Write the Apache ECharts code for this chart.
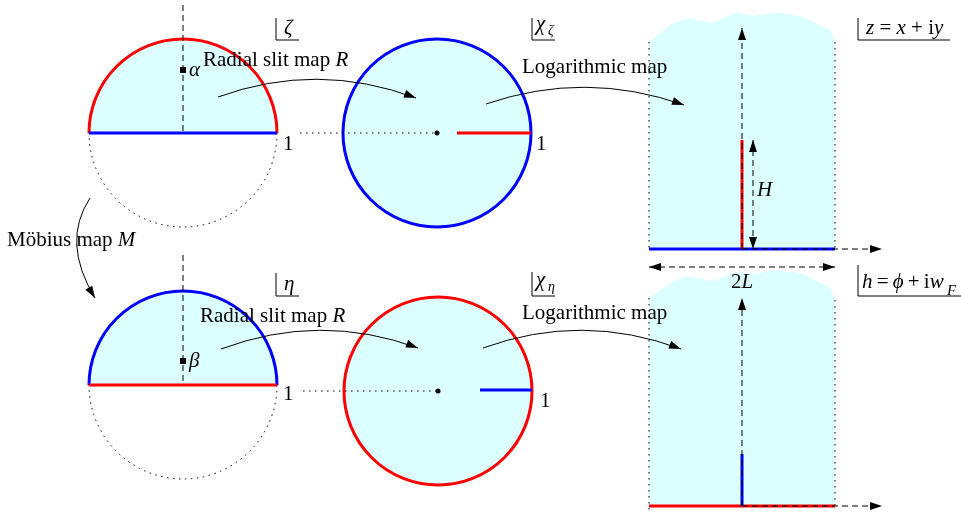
<!DOCTYPE html>
<html><head><meta charset="utf-8">
<script src="https://cdn.jsdelivr.net/npm/echarts@6/dist/echarts.min.js"></script>
<style>html,body{margin:0;padding:0;background:#fff}#c{width:961px;height:515px}</style>
</head><body><div id="c"></div>
<script>
// ---------------- diagram data (x to the right, y downward) ----------------
const halfDiskCenters = [[183,133],[183,385]];
const diskRadius = 94;
const fullCircleCenters = [[437,133],[438,391]];
const slitSegments = [[[457,133],[531,133]], [[480,390],[532,390]]];
const radialDashLines = [[[183,5],[183,133]], [[183,255],[183,385]]];
const connectorDotLines = [[[300,133],[437,133]], [[303,391],[438,391]]];
const markedPoints = [[183,70],[183,361]];          // alpha, beta
const centerDots = [[437,133],[438,391]];
const stripOutlines = [
  [[649,249],[649,42],[672,24],[688,18],[712,23],[737,12],[753,16],[777,12],[803,17],[830,30],[835,42],[835,249]],
  [[649,506],[649,298],[672,282],[688,276],[712,281],[737,272],[753,274],[777,270],[803,274],[830,288],[835,300],[835,506]]
];
const stripSideLines = [[[649,42],[649,249]], [[835,42],[835,249]], [[649,298],[649,514]], [[835,300],[835,506]]];
const stripBaseLines = [[[649,249],[835,249]], [[649,506],[835,506]]];
const stripCuts = [[[742,140],[742,249]], [[742,454],[742,506]]];
const axisArrows = [[[742,249],[742,28]], [[742,249],[882,249]], [[742,506],[742,298]], [[742,506],[882,506]]];
const doubleArrows = [[[753,140],[753,249]], [[649,267],[835,267]]];
const mapArrows = [   // start, control, end (tip)
  [[218,97],[317,61],[416,98]],
  [[486,104],[585,70],[684,105]],
  [[90,198],[61,242],[95,298]],
  [[221,349],[320,312],[418,348]],
  [[483,348],[582,312],[681,349]]
];
const planeBrackets = [
  [[276,18],[276,40],[299,40]], [[532,18],[532,40],[555,40]], [[858,18],[858,40],[950,40]],
  [[276,273],[276,296],[299,296]], [[532,272],[532,296],[555,296]], [[858,265],[858,296],[961,296]]
];
// [x, y, rich text, align, size]
const textLabels = [
  [203,60,'{r|Radial slit map }{i|R}','left',21],
  [522,67,'{r|Logarithmic map}','left',21],
  [200,316,'{r|Radial slit map }{i|R}','left',21],
  [522,313,'{r|Logarithmic map}','left',21],
  [7,240,'{r|Möbius map }{i|M}','left',21],
  [189,70,'{i|α}','left',21],
  [189,361,'{i|β}','left',21],
  [283,144,'{r|1}','left',21],
  [536,144,'{r|1}','left',21],
  [283,394,'{r|1}','left',21],
  [540,401,'{r|1}','left',21],
  [284,28,'{i|ζ}','left',21],
  [536,24,'{i|χ}','left',21],
  [548,31,'{i|ζ}','left',14],
  [866,28,'{i|z}{r| = }{i|x}{r| + i}{i|y}','left',21],
  [284,284,'{i|η}','left',21],
  [536,280,'{i|χ}','left',21],
  [548,287,'{i|η}','left',14],
  [862,282,'{i|h}{r|\u2009=\u2009}{i|ϕ}{r|\u2009+\u2009i}{i|w}','left',21],
  [947,291,'{i|F}','left',15],
  [757,190,'{i|H}','left',21],
  [742,282,'{r|2}{i|L}','center',21]
];

// ---------------- styles ----------------
const FILL = '#dcffff', RED = '#ff0000', BLUE = '#0000ff', INK = '#000000';
const halfArcColors = [RED, BLUE], halfBaseColors = [BLUE, RED];
const circleColors = [BLUE, RED], slitColors = [RED, BLUE];
const baseColors = [BLUE, RED], cutColors = [RED, BLUE];
const FONT = '"Liberation Serif","Times New Roman",serif';
const DOT = [1.5, 4.5], DASH = [6, 4];

function headPts(tip, from, L, W) {
  const dx = tip[0]-from[0], dy = tip[1]-from[1], n = Math.hypot(dx,dy) || 1;
  const ux = dx/n, uy = dy/n, bx = tip[0]-ux*L, by = tip[1]-uy*L;
  return [[tip[0],tip[1]], [bx - uy*W/2, by + ux*W/2], [bx + uy*W/2, by - ux*W/2]];
}
function head(tip, from) {
  return {type:'polygon', shape:{points: headPts(tip, from, 12, 8)}, style:{fill: INK}};
}
function seg(a, b, stroke, w, dash) {
  return {type:'line', shape:{x1:a[0],y1:a[1],x2:b[0],y2:b[1]}, style:{stroke, lineWidth:w, lineDash: dash || null}};
}
function custom(z, data, render) {
  return {type:'custom', coordinateSystem:'cartesian2d', z, data, renderItem: render, silent:true, animation:false, clip:false};
}
const rad = api => api.size([diskRadius, 0])[0];

const series = [
  custom(1, stripOutlines.map(p => p[0]), (params, api) => ({
    type:'polygon', shape:{points: stripOutlines[params.dataIndex].map(p => api.coord(p))}, style:{fill: FILL}
  })),
  custom(2, stripSideLines.map(s => s[0]), (params, api) => {
    const s = stripSideLines[params.dataIndex];
    return seg(api.coord(s[0]), api.coord(s[1]), INK, 1, DOT);
  }),
  custom(3, halfDiskCenters, (params, api) => {
    const c = api.coord([api.value(0), api.value(1)]), r = rad(api), i = params.dataIndex;
    return {type:'group', children:[
      {type:'sector', shape:{cx:c[0], cy:c[1], r0:0, r, startAngle:Math.PI, endAngle:2*Math.PI, clockwise:true}, style:{fill: FILL}},
      {type:'arc', shape:{cx:c[0], cy:c[1], r, startAngle:0, endAngle:Math.PI, clockwise:true}, style:{stroke: INK, fill:null, lineWidth:1, lineDash: DOT}},
      {type:'arc', shape:{cx:c[0], cy:c[1], r, startAngle:Math.PI, endAngle:2*Math.PI, clockwise:true}, style:{stroke: halfArcColors[i], fill:null, lineWidth:3}},
      seg([c[0]-r, c[1]], [c[0]+r, c[1]], halfBaseColors[i], 3)
    ]};
  }),
  custom(4, fullCircleCenters, (params, api) => {
    const c = api.coord([api.value(0), api.value(1)]), r = rad(api);
    return {type:'circle', shape:{cx:c[0], cy:c[1], r}, style:{fill: FILL, stroke: circleColors[params.dataIndex], lineWidth:3}};
  }),
  custom(5, radialDashLines.map(s => s[0]), (params, api) => {
    const s = radialDashLines[params.dataIndex];
    return seg(api.coord(s[0]), api.coord(s[1]), INK, 1, DASH);
  }),
  custom(5, connectorDotLines.map(s => s[0]), (params, api) => {
    const s = connectorDotLines[params.dataIndex];
    return seg(api.coord(s[0]), api.coord(s[1]), INK, 1, DOT);
  }),
  custom(6, slitSegments.map(s => s[0]), (params, api) => {
    const s = slitSegments[params.dataIndex];
    return seg(api.coord(s[0]), api.coord(s[1]), slitColors[params.dataIndex], 3);
  }),
  custom(6, stripBaseLines.map(s => s[0]), (params, api) => {
    const s = stripBaseLines[params.dataIndex];
    return seg(api.coord(s[0]), api.coord(s[1]), baseColors[params.dataIndex], 3);
  }),
  custom(6, stripCuts.map(s => s[0]), (params, api) => {
    const s = stripCuts[params.dataIndex];
    return seg(api.coord(s[0]), api.coord(s[1]), cutColors[params.dataIndex], 3);
  }),
  custom(7, axisArrows.map(s => s[0]), (params, api) => {
    const s = axisArrows[params.dataIndex], a = api.coord(s[0]), b = api.coord(s[1]);
    return {type:'group', children:[seg(a, b, INK, 1, DASH), head(b, a)]};
  }),
  custom(7, doubleArrows.map(s => s[0]), (params, api) => {
    const s = doubleArrows[params.dataIndex], a = api.coord(s[0]), b = api.coord(s[1]);
    return {type:'group', children:[seg(a, b, INK, 1, DASH), head(b, a), head(a, b)]};
  }),
  custom(8, markedPoints, (params, api) => {
    const c = api.coord([api.value(0), api.value(1)]);
    return {type:'rect', shape:{x:c[0]-3, y:c[1]-3, width:6, height:6}, style:{fill: INK}};
  }),
  custom(8, centerDots, (params, api) => {
    const c = api.coord([api.value(0), api.value(1)]);
    return {type:'circle', shape:{cx:c[0], cy:c[1], r:2.5}, style:{fill: INK}};
  }),
  custom(9, mapArrows.map(a => a[0]), (params, api) => {
    const m = mapArrows[params.dataIndex];
    const s = api.coord(m[0]), c = api.coord(m[1]), e = api.coord(m[2]);
    return {type:'group', children:[
      {type:'bezierCurve', shape:{x1:s[0], y1:s[1], cpx1:c[0], cpy1:c[1], x2:e[0], y2:e[1]}, style:{stroke: INK, fill:null, lineWidth:1}},
      head(e, c)
    ]};
  }),
  custom(9, planeBrackets.map(b => b[0]), (params, api) => ({
    type:'polyline', shape:{points: planeBrackets[params.dataIndex].map(p => api.coord(p))}, style:{stroke: INK, fill:null, lineWidth:1}
  })),
  custom(10, textLabels.map(t => [t[0], t[1]]), (params, api) => {
    const t = textLabels[params.dataIndex], c = api.coord([api.value(0), api.value(1)]), fs = t[4];
    return {type:'text', x:c[0], y:c[1], style:{
      text: t[2], align: t[3], verticalAlign:'middle', textAlign: t[3], textVerticalAlign:'middle',
      font: fs + 'px ' + FONT, fill: INK,
      rich: {
        r: {fontFamily: FONT, fontSize: fs, fill: INK},
        i: {fontFamily: FONT, fontSize: fs, fontStyle:'italic', fill: INK}
      }
    }};
  })
];

const chart = echarts.init(document.getElementById('c'), null, {renderer:'canvas'});
chart.setOption({
  backgroundColor: '#ffffff',
  animation: false,
  grid: {left:0, right:0, top:0, bottom:0},
  xAxis: {type:'value', min:0, max:961, show:false},
  yAxis: {type:'value', min:0, max:515, inverse:true, show:false},
  series
});
</script></body></html>
